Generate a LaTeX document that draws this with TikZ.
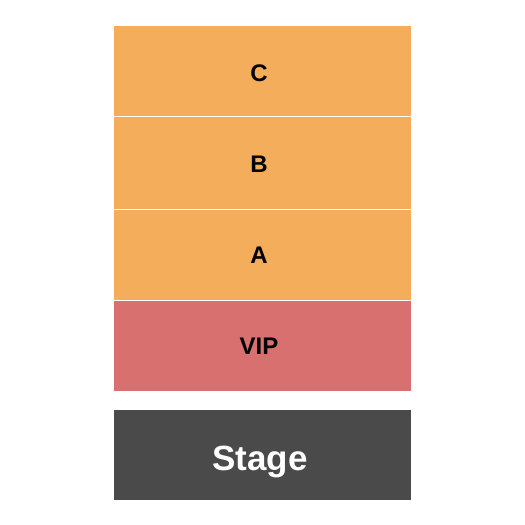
\documentclass[tikz,border=0pt]{standalone}
\usepackage{fontspec}
\setmainfont{Liberation Sans}
\usetikzlibrary{calc}
\definecolor{secorange}{RGB}{244,173,91}
\definecolor{secvip}{RGB}{216,112,112}
\definecolor{secstage}{RGB}{74,74,74}
\tikzset{
  sect/.style={inner sep=0pt, outer sep=0pt, minimum width=297pt, anchor=north west},
  lbl/.style={inner sep=0pt, anchor=base, font=\bfseries\fontsize{24}{26}\selectfont, text=black},
  stagelbl/.style={inner sep=0pt, anchor=base, font=\bfseries\fontsize{35}{38}\selectfont, text=white},
}
\begin{document}
\begin{tikzpicture}[x=1pt,y=-1pt]
\useasboundingbox (0,0) rectangle (525,525);
\node[sect, fill=secorange, minimum height=90pt] (c) at (114,26) {};
\node[sect, fill=secorange, minimum height=92pt] (b) at (114,117) {};
\node[sect, fill=secorange, minimum height=90pt] (a) at (114,210) {};
\node[sect, fill=secvip, minimum height=90pt] (vip) at (114,301) {};
\node[sect, fill=secstage, minimum height=90pt] (stage) at (114,410) {};
\node[lbl] (cl) at ($(c.center)+(-3.5,10)$) {C};
\node[lbl] (bl) at ($(b.center)+(-3.5,9)$) {B};
\node[lbl] (al) at ($(a.center)+(-3.5,8.6)$) {A};
\node[lbl] (vipl) at ($(vip.center)+(-3.5,8.6)$) {VIP};
\node[stagelbl] (stagel) at ($(stage.center)+(-2.5,15)$) {Stage};
\end{tikzpicture}
\end{document}
